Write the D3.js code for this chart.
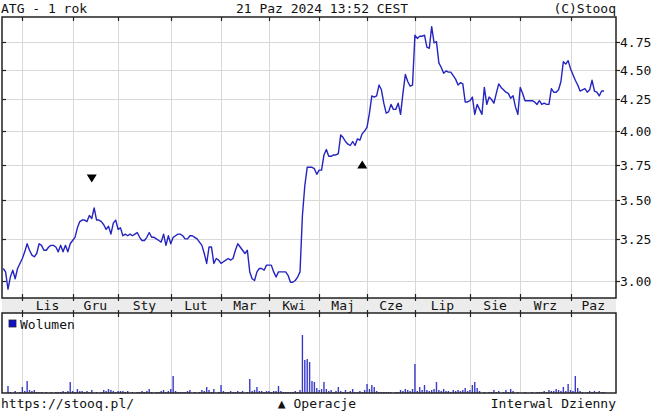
<!DOCTYPE html>
<html>
<head>
<meta charset="utf-8">
<script src="https://d3js.org/d3.v7.min.js"></script>
<style>
  body { margin: 0; background: #fff; }
  svg text { font-family: "DejaVu Sans Mono", monospace; fill: #111; }
</style>
</head>
<body>
<svg id="chart"></svg>
<script>
// Daily close prices (trading day index 0 = late Oct 2023)
const prices = [
  3.07, 3.05, 2.95, 3.02, 3.06, 3.01, 3.07, 3.10, 3.13, 3.17,
  3.22, 3.18, 3.15, 3.14, 3.16, 3.22, 3.21, 3.18, 3.18, 3.20,
  3.21, 3.21, 3.20, 3.17, 3.21, 3.17, 3.21, 3.17, 3.22, 3.24,
  3.26, 3.32, 3.36, 3.37, 3.37, 3.36, 3.40, 3.38, 3.45, 3.37,
  3.37, 3.36, 3.34, 3.31, 3.33, 3.28, 3.35, 3.37, 3.31, 3.32,
  3.27, 3.28, 3.27, 3.28, 3.27, 3.28, 3.29, 3.26, 3.24, 3.24,
  3.26, 3.29, 3.26, 3.26, 3.25, 3.24, 3.23, 3.28, 3.21, 3.27,
  3.22, 3.26, 3.27, 3.28, 3.28, 3.27, 3.25, 3.25, 3.27, 3.27,
  3.26, 3.25, 3.23, 3.21, 3.16, 3.10, 3.20, 3.20, 3.10, 3.13,
  3.12, 3.10, 3.11, 3.12, 3.13, 3.12, 3.13, 3.18, 3.22, 3.20,
  3.18, 3.16, 3.18, 3.05, 3.01, 3.00, 3.05, 3.07, 3.07, 3.06,
  3.09, 3.09, 3.09, 3.05, 3.02, 3.05, 3.05, 3.05, 3.05, 3.03,
  2.99, 2.99, 3.00, 3.02, 3.05, 3.40, 3.60, 3.73, 3.73, 3.73,
  3.72, 3.68, 3.71, 3.71, 3.82, 3.86, 3.81, 3.81, 3.82, 3.82,
  3.83, 3.97, 3.95, 3.92, 3.90, 3.89, 3.92, 3.89, 3.94, 3.93,
  3.98, 4.00, 4.03, 4.14, 4.28, 4.27, 4.28, 4.37, 4.33, 4.22,
  4.14, 4.15, 4.21, 4.17, 4.17, 4.22, 4.13, 4.30, 4.46, 4.40,
  4.36, 4.37, 4.81, 4.78, 4.80, 4.80, 4.81, 4.70, 4.69, 4.89,
  4.74, 4.75, 4.56, 4.52, 4.47, 4.49, 4.48, 4.48, 4.45, 4.42,
  4.37, 4.39, 4.38, 4.23, 4.23, 4.24, 4.27, 4.13, 4.21, 4.17,
  4.13, 4.35, 4.21, 4.27, 4.25, 4.22, 4.30, 4.38, 4.35, 4.33,
  4.31, 4.30, 4.26, 4.28, 4.19, 4.13, 4.35, 4.30, 4.24, 4.24,
  4.24, 4.24, 4.23, 4.21, 4.24, 4.21, 4.22, 4.21, 4.21, 4.34,
  4.31, 4.31, 4.33, 4.40, 4.57, 4.55, 4.58, 4.51, 4.46, 4.41,
  4.37, 4.32, 4.33, 4.34, 4.31, 4.33, 4.41, 4.32, 4.31, 4.28,
  4.32, 4.32
];

// Daily volume (relative units)
const volumes = [
  0, 0, 7, 1, 0, 2, 0, 1, 6, 2,
  12, 3, 2, 3, 1, 1, 1, 0, 1, 0,
  1, 0, 1, 1, 1, 2, 1, 2, 11, 2,
  1, 4, 2, 2, 1, 2, 1, 3, 0, 1,
  0, 1, 3, 2, 4, 3, 2, 1, 2, 2,
  2, 1, 2, 0, 1, 0, 1, 1, 2, 1,
  2, 4, 1, 0, 1, 1, 2, 3, 1, 2,
  4, 17, 2, 1, 1, 1, 1, 2, 3, 0,
  1, 0, 1, 3, 2, 6, 3, 1, 4, 0,
  1, 8, 2, 1, 1, 2, 1, 1, 2, 1,
  2, 0, 1, 14, 2, 3, 6, 2, 2, 1,
  2, 2, 1, 2, 2, 7, 2, 1, 1, 1,
  1, 1, 2, 1, 3, 58, 33, 34, 31, 12,
  11, 5, 3, 4, 11, 4, 2, 3, 1, 2,
  6, 2, 1, 3, 1, 2, 4, 1, 1, 2,
  1, 3, 9, 4, 8, 6, 2, 1, 1, 1,
  1, 1, 1, 0, 1, 1, 3, 2, 4, 3,
  2, 4, 29, 2, 6, 3, 8, 3, 2, 3,
  4, 11, 3, 2, 4, 2, 2, 1, 3, 2,
  3, 2, 3, 5, 2, 3, 8, 11, 5, 2,
  0, 1, 0, 1, 1, 3, 1, 2, 0, 1,
  3, 1, 4, 2, 0, 1, 0, 0, 1, 0,
  0, 1, 0, 1, 1, 1, 2, 1, 3, 2,
  2, 4, 3, 2, 6, 2, 9, 3, 2, 17,
  5, 2, 1, 0, 1, 2, 1, 2, 1, 2,
  1, 1
];

// Month labels and the trading-day index where each month starts
const months = ["Lis", "Gru", "Sty", "Lut", "Mar", "Kwi", "Maj", "Cze", "Lip", "Sie", "Wrz", "Paz"];
const monthStart = [8, 29, 48, 70, 91, 111, 132, 152, 172, 195, 216, 237];

// Price axis ticks
const priceTicks = [3.00, 3.25, 3.50, 3.75, 4.00, 4.25, 4.50, 4.75];

// Operations (signals): day index, level, direction
const opIndex = [37, 150];
const opLevel = [3.65, 3.75];
const opType = ["sell", "buy"];

const W = 654, H = 413;
const plotLeft = 2, plotRight = 616, plotTop = 17;
const priceBottom = 298, bandBottom = 313, volBottom = 393;
const lastIndex = 256;

const svg = d3.select("#chart")
  .attr("width", W)
  .attr("height", H);

svg.append("rect").attr("width", W).attr("height", H).attr("fill", "#fff");

// Scales
const x = d3.scaleLinear()
  .domain([-0.5, lastIndex])
  .range([plotLeft, plotRight]);

const y = d3.scaleLog()
  .domain([3, 4.75])
  .range([280.5, 41.7]);

const yVol = d3.scaleLinear()
  .domain([0, 80])
  .range([volBottom, bandBottom]);

const gridColor = "#d9d9d9";
const lineColor = "#2424c0";

// Header texts
svg.append("text").attr("x", 1).attr("y", 13).attr("font-size", 13).text("ATG - 1 rok");
svg.append("text").attr("x", 322).attr("y", 13).attr("font-size", 13)
  .attr("text-anchor", "middle").text("21 Paz 2024 13:52 CEST");
svg.append("text").attr("x", 616).attr("y", 13).attr("font-size", 13)
  .attr("text-anchor", "end").text("(C)Stooq");

// Horizontal grid lines in price panel
svg.append("g")
  .selectAll("line")
  .data(priceTicks)
  .join("line")
  .attr("x1", plotLeft).attr("x2", plotRight)
  .attr("y1", d => Math.round(y(d)) + 0.5)
  .attr("y2", d => Math.round(y(d)) + 0.5)
  .attr("stroke", gridColor);

// Vertical grid lines in both panels
const vgrid = svg.append("g");
monthStart.forEach(function(m) {
  const px = Math.round(x(m)) + 0.5;
  vgrid.append("line").attr("x1", px).attr("x2", px)
    .attr("y1", plotTop).attr("y2", priceBottom).attr("stroke", gridColor);
  vgrid.append("line").attr("x1", px).attr("x2", px)
    .attr("y1", bandBottom).attr("y2", volBottom).attr("stroke", gridColor);
});

// Month label band
svg.append("rect")
  .attr("x", plotLeft).attr("y", priceBottom)
  .attr("width", plotRight - plotLeft).attr("height", bandBottom - priceBottom)
  .attr("fill", "#ececec");

svg.append("g")
  .selectAll("text")
  .data(months)
  .join("text")
  .attr("x", (d, i) => (x(monthStart[i]) + x(i + 1 < monthStart.length ? monthStart[i + 1] : lastIndex)) / 2)
  .attr("y", 310)
  .attr("font-size", 13)
  .attr("text-anchor", "middle")
  .text(d => d);

// Volume bars
svg.append("g")
  .selectAll("rect")
  .data(volumes)
  .join("rect")
  .attr("x", (d, i) => x(i) - 0.7)
  .attr("width", 1.4)
  .attr("y", d => yVol(d))
  .attr("height", d => volBottom - yVol(d))
  .attr("fill", "#3a3ac8");

// Price line
svg.append("path")
  .datum(prices)
  .attr("fill", "none")
  .attr("stroke", lineColor)
  .attr("stroke-width", 1.4)
  .attr("stroke-linejoin", "round")
  .attr("d", d3.line()
    .x((d, i) => x(i))
    .y(d => y(d)));

// Operation markers
opIndex.forEach(function(idx, k) {
  const cx = x(idx), cy = y(opLevel[k]);
  const pts = opType[k] === "sell"
    ? [[cx - 5, cy - 4], [cx + 5, cy - 4], [cx, cy + 4]]
    : [[cx - 5, cy + 4], [cx + 5, cy + 4], [cx, cy - 4]];
  svg.append("path")
    .attr("d", "M" + pts.join("L") + "Z")
    .attr("fill", "#000");
});

// Panel borders
const border = svg.append("g").attr("fill", "none").attr("stroke", "#222").attr("stroke-width", 1.5);
border.append("rect").attr("x", plotLeft).attr("y", plotTop).attr("width", plotRight - plotLeft).attr("height", priceBottom - plotTop);
border.append("rect").attr("x", plotLeft).attr("y", bandBottom).attr("width", plotRight - plotLeft).attr("height", volBottom - bandBottom);

// Tick marks along borders
const ticks = svg.append("g").attr("stroke", "#222").attr("stroke-width", 1.2);
monthStart.forEach(function(m) {
  const px = Math.round(x(m)) + 0.5;
  ticks.append("line").attr("x1", px).attr("x2", px).attr("y1", plotTop).attr("y2", plotTop + 4);
  ticks.append("line").attr("x1", px).attr("x2", px).attr("y1", priceBottom - 4).attr("y2", priceBottom + 3);
  ticks.append("line").attr("x1", px).attr("x2", px).attr("y1", bandBottom - 3).attr("y2", bandBottom + 4);
});
priceTicks.forEach(function(t) {
  const py = Math.round(y(t)) + 0.5;
  ticks.append("line").attr("x1", plotLeft).attr("x2", plotLeft + 4).attr("y1", py).attr("y2", py);
  ticks.append("line").attr("x1", plotRight).attr("x2", plotRight + 4).attr("y1", py).attr("y2", py);
});

// Price axis labels on the right
svg.append("g")
  .selectAll("text")
  .data(priceTicks)
  .join("text")
  .attr("x", 620)
  .attr("y", d => y(d) + 5)
  .attr("font-size", 13)
  .text(d => d3.format(".2f")(d));

// Volume legend
svg.append("rect").attr("x", 9).attr("y", 320).attr("width", 7).attr("height", 7)
  .attr("fill", "#1010d0").attr("stroke", "#222").attr("stroke-width", 0.8);
svg.append("text").attr("x", 20).attr("y", 329).attr("font-size", 13).text("Wolumen");

// Footer
svg.append("text").attr("x", 1).attr("y", 408).attr("font-size", 13).text("https://stooq.pl/");
svg.append("text").attr("x", 317).attr("y", 408).attr("font-size", 13)
  .attr("text-anchor", "middle").text("▲ Operacje");
svg.append("text").attr("x", 616).attr("y", 408).attr("font-size", 13)
  .attr("text-anchor", "end").text("Interwal Dzienny");
</script>
</body>
</html>
